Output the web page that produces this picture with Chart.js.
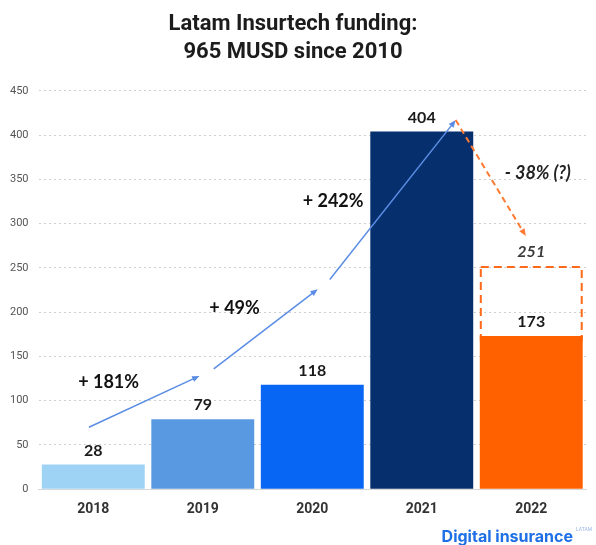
<!DOCTYPE html>
<html lang="en">
<head>
    <meta charset="UTF-8">
    <title>Latam Insurtech funding</title>
    <style>
        body {
            margin: 0;
            background: #fff;
        }
        #wrap {
            width: 596px;
            height: 545px;
        }
    </style>
</head>
<body>
    <div id="wrap"><canvas id="funding" width="596" height="545"></canvas></div>

    <script src="https://cdn.jsdelivr.net/npm/chart.js"></script>
    <script>
        // funding per year, MUSD
        const years = ['2018', '2019', '2020', '2021', '2022'];
        const funding = [28, 79, 118, 404, 173];
        const barColors = ['#9fd3f6', '#5899e2', '#0866f4', '#062f6d', '#ff6100'];
        const yTicks = [0, 50, 100, 150, 200, 250, 300, 350, 400, 450];

        // 2022 projection
        const projected2022 = 251;

        // growth arrows: [fromIndex, fromValue, toIndex, toValue]
        const growthArrows = [
            [-0.04, 70, 0.97, 128],
            [1.1, 136, 2.05, 226],
            [2.16, 237, 3.31, 417]
        ];
        const dropArrow = [3.31, 417, 3.95, 286];

        // growth labels: [text, index, value]
        const growthLabels = [
            ['+ 181%', 0.14, 121],
            ['+ 49%', 1.29, 205],
            ['+ 242%', 2.19, 325]
        ];
        const dropLabel = ['- 38% (?)', 4.06, 357];

        const labelFont = 'Lato, "Open Sans", sans-serif';

        function arrow(ctx, x0, y0, x1, y1, color, width, dash) {
            const ang = Math.atan2(y1 - y0, x1 - x0);
            const head = 8;
            ctx.save();
            ctx.strokeStyle = color;
            ctx.fillStyle = color;
            ctx.lineWidth = width;
            ctx.setLineDash(dash);
            ctx.beginPath();
            ctx.moveTo(x0, y0);
            ctx.lineTo(x1 - Math.cos(ang) * head * 0.8, y1 - Math.sin(ang) * head * 0.8);
            ctx.stroke();
            ctx.setLineDash([]);
            ctx.beginPath();
            ctx.moveTo(x1, y1);
            ctx.lineTo(x1 - head * Math.cos(ang - 0.4), y1 - head * Math.sin(ang - 0.4));
            ctx.lineTo(x1 - head * Math.cos(ang + 0.4), y1 - head * Math.sin(ang + 0.4));
            ctx.closePath();
            ctx.fill();
            ctx.restore();
        }

        const annotations = {
            id: 'annotations',
            beforeDatasetsDraw(chart) {
                // projected 2022 box, the real bar is painted over its base
                const ctx = chart.ctx;
                const ys = chart.scales.y;
                const last = chart.getDatasetMeta(0).data[4];
                const half = last.width / 2;
                const top = ys.getPixelForValue(projected2022);
                ctx.save();
                ctx.strokeStyle = '#ff6a1a';
                ctx.lineWidth = 2;
                ctx.setLineDash([8, 5]);
                ctx.strokeRect(last.x - half + 1, top, last.width - 2, last.y - top + 4);
                ctx.restore();
            },
            afterDatasetsDraw(chart) {
                const ctx = chart.ctx;
                const xs = chart.scales.x;
                const ys = chart.scales.y;
                const meta = chart.getDatasetMeta(0);

                // value labels above bars
                ctx.save();
                ctx.textAlign = 'center';
                ctx.textBaseline = 'middle';
                ctx.fillStyle = '#1a1a1a';
                ctx.font = 'bold 16px ' + labelFont;
                meta.data.forEach((bar, i) => {
                    ctx.fillText(String(funding[i]), bar.x, bar.y - 14);
                });

                const last = meta.data[4];
                ctx.fillStyle = '#3a3a3a';
                ctx.font = 'italic bold 16px ' + labelFont;
                ctx.fillText(String(projected2022), last.x, ys.getPixelForValue(projected2022) - 15);

                // growth arrows
                growthArrows.forEach(a => {
                    arrow(ctx, xs.getPixelForValue(a[0]), ys.getPixelForValue(a[1]),
                        xs.getPixelForValue(a[2]), ys.getPixelForValue(a[3]), '#5b8de4', 1.5, []);
                });
                arrow(ctx, xs.getPixelForValue(dropArrow[0]), ys.getPixelForValue(dropArrow[1]),
                    xs.getPixelForValue(dropArrow[2]), ys.getPixelForValue(dropArrow[3]), '#ff7a33', 2, [6, 4]);

                ctx.fillStyle = '#111';
                ctx.font = 'bold 18px ' + labelFont;
                growthLabels.forEach(l => {
                    ctx.fillText(l[0], xs.getPixelForValue(l[1]), ys.getPixelForValue(l[2]));
                });
                ctx.fillStyle = '#222';
                ctx.font = 'italic bold 18px ' + labelFont;
                ctx.fillText(dropLabel[0], xs.getPixelForValue(dropLabel[1]), ys.getPixelForValue(dropLabel[2]));

                // brand mark
                ctx.textAlign = 'right';
                ctx.fillStyle = '#1e6fe6';
                ctx.font = 'bold 16px Inter, Roboto, sans-serif';
                ctx.fillText('Digital insurance', 573, 537);
                ctx.textAlign = 'left';
                ctx.fillStyle = '#9ab6e8';
                ctx.font = '5px Roboto, sans-serif';
                ctx.fillText('LATAM', 576, 530);
                ctx.restore();
            }
        };

        new Chart(document.getElementById('funding'), {
            type: 'bar',
            data: {
                labels: years,
                datasets: [{
                    data: funding,
                    backgroundColor: barColors,
                    barPercentage: 0.94,
                    categoryPercentage: 1
                }]
            },
            options: {
                responsive: false,
                animation: false,
                layout: {
                    padding: { left: 0, right: 10, top: 0, bottom: 23 }
                },
                plugins: {
                    legend: { display: false },
                    tooltip: { enabled: false },
                    title: {
                        display: true,
                        text: ['Latam Insurtech funding:', '965 MUSD since 2010'],
                        color: '#1c1c1c',
                        font: { family: 'Roboto', size: 22, weight: 'bold', lineHeight: 1.27 },
                        padding: { top: 11, bottom: 24 }
                    }
                },
                scales: {
                    x: {
                        grid: { display: false },
                        border: { display: true, color: '#d8d8d8' },
                        ticks: {
                            color: '#333',
                            padding: 4,
                            font: { family: 'Roboto', size: 14, weight: 'bold' }
                        }
                    },
                    y: {
                        min: 0,
                        max: 450,
                        afterBuildTicks(scale) {
                            scale.ticks = yTicks.map(v => ({ value: v }));
                        },
                        border: { display: false, dash: [2, 3] },
                        grid: { color: '#cfcfcf', lineWidth: 1, drawTicks: false },
                        ticks: {
                            color: '#555',
                            padding: 10,
                            font: { family: 'Roboto', size: 11 }
                        }
                    }
                }
            },
            plugins: [annotations]
        });
    </script>
</body>
</html>
